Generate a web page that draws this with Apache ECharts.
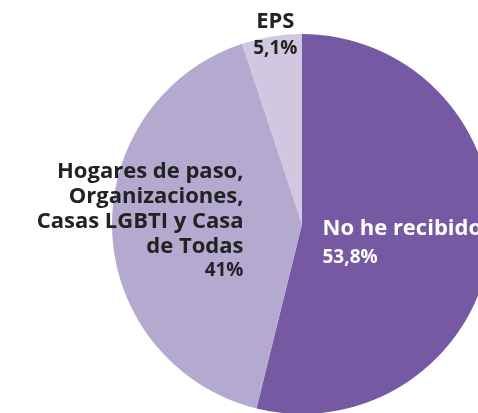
<!DOCTYPE html>
<html>
<head>
<meta charset="utf-8">
<script src="https://cdn.jsdelivr.net/npm/echarts@6/dist/echarts.min.js"></script>
<style>
  html, body { margin: 0; padding: 0; background: #fff; }
  #chart { width: 478px; height: 413px; }
</style>
</head>
<body>
<div id="chart"></div>
<script>
const categories = [
  'No he recibido',
  'Hogares de paso,\nOrganizaciones,\nCasas LGBTI y Casa\nde Todas',
  'EPS'
];
const values = [53.8, 41, 5.1];
const colors = ['#755aa3', '#b4a9ce', '#d0c7e0'];

const font = '"Open Sans", "Noto Sans", sans-serif';

// label nudges per slice: [dx, dy, text color, align, percent line height]
const labelTweaks = [
  [3, 9.5, '#ffffff', 'left', 34],
  [-64, -7, '#222222', 'right', 23],
  [-11, -91.5, '#222222', 'center', 29]
];

function richFor(t) {
  return {
    n: { fontFamily: font, fontWeight: 700, fontSize: 22, lineHeight: 25, color: t[2], align: t[3] },
    p: { fontFamily: font, fontWeight: 700, fontSize: 19, lineHeight: t[4], color: t[2], align: t[3] }
  };
}

const myChart = echarts.init(document.getElementById('chart'));
myChart.setOption({
  animation: false,
  series: [{
    type: 'pie',
    center: [302, 224],
    radius: [0, 190],
    startAngle: 90,
    clockwise: true,
    avoidLabelOverlap: false,
    labelLine: { show: false },
    data: categories.map((name, i) => ({
      name: name,
      value: values[i],
      itemStyle: { color: colors[i] },
      label: {
        show: true,
        position: 'inside',
        rich: richFor(labelTweaks[i]),
        formatter: p => p.name.split('\n').map(s => '{n|' + s + '}').join('\n') +
          '\n{p|' + String(p.value).replace('.', ',') + '%}'
      }
    })),
    labelLayout: p => ({ dx: labelTweaks[p.dataIndex][0], dy: labelTweaks[p.dataIndex][1] })
  }]
});
</script>
</body>
</html>
